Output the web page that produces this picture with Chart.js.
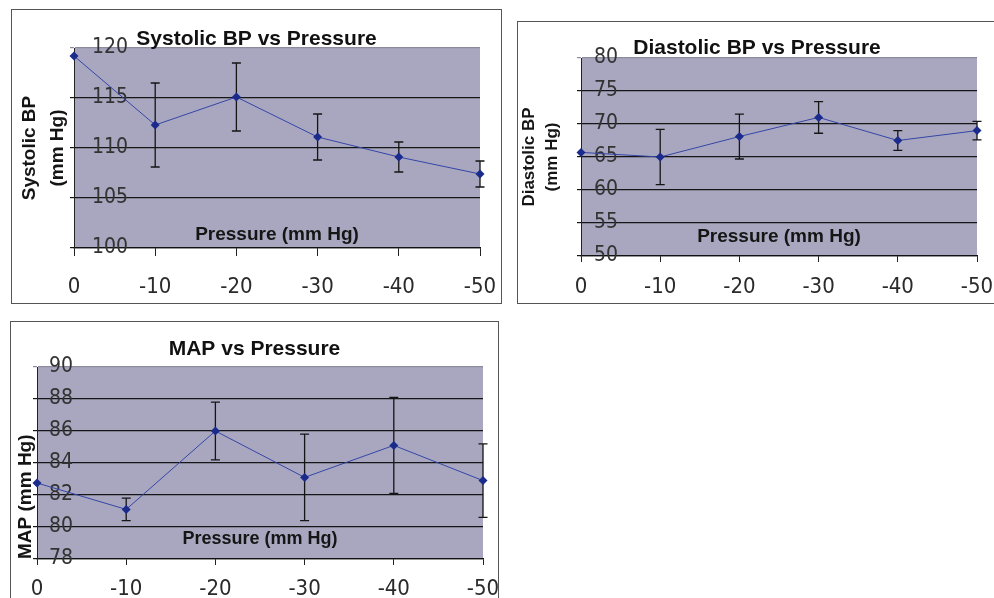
<!DOCTYPE html>
<html>
<head>
<meta charset="utf-8">
<script src="https://cdn.jsdelivr.net/npm/chart.js@4.4.1/dist/chart.umd.min.js"></script>
<style>
    html, body { margin: 0; padding: 0; background: #fff; }
    body { width: 994px; height: 598px; overflow: hidden; position: relative; }
    .box { position: absolute; border: 1px solid #555; box-sizing: border-box; background: #fff; }
    .box canvas { position: absolute; left: 0; top: 0; }
</style>
</head>
<body>
<div class="box" style="left:11px; top:9px; width:491px; height:295px;"><canvas id="systolicChart" width="489" height="293"></canvas></div>
<div class="box" style="left:517px; top:21px; width:480px; height:283px;"><canvas id="diastolicChart" width="478" height="281"></canvas></div>
<div class="box" style="left:10px; top:321px; width:489px; height:300px;"><canvas id="mapChart" width="487" height="298"></canvas></div>
<script>
// Pressure steps (x axis)
const pressureLabels = ['0', '-10', '-20', '-30', '-40', '-50'];

// Systolic BP (mm Hg): mean and error bar half-length
const systolicMean = [119.2, 112.3, 115.1, 111.1, 109.1, 107.4];
const systolicErr = [0, 4.2, 3.4, 2.3, 1.5, 1.3];
const systolicTicks = [100, 105, 110, 115, 120];

// Diastolic BP (mm Hg)
const diastolicMean = [65.7, 65.0, 68.1, 71.0, 67.5, 69.0];
const diastolicErr = [0, 4.2, 3.4, 2.4, 1.5, 1.4];
const diastolicTicks = [50, 55, 60, 65, 70, 75, 80];

// MAP (mm Hg)
const mapMean = [82.75, 81.1, 86.0, 83.1, 85.1, 82.9];
const mapErr = [0, 0.7, 1.8, 2.7, 3.0, 2.3];
const mapTicks = [78, 80, 82, 84, 86, 88, 90];

const TITLE_FONT = "'Liberation Sans', Arial, sans-serif";
const TICK_FONT = "'Liberation Sans Narrow', 'Arial Narrow', 'DejaVu Sans Condensed', sans-serif";

// fill the plot area grey-lavender
const plotBackground = {
    id: 'plotBackground',
    beforeDraw(chart) {
        const a = chart.chartArea;
        const ctx = chart.ctx;
        ctx.save();
        ctx.fillStyle = '#a9a7bf';
        ctx.fillRect(a.left, a.top, a.right - a.left, a.bottom - a.top);
        ctx.restore();
    }
};

// vertical error bars with caps
const errorBars = {
    id: 'errorBars',
    beforeDatasetsDraw(chart) {
        const ctx = chart.ctx;
        const y = chart.scales.y;
        chart.data.datasets.forEach(function (ds, di) {
            const meta = chart.getDatasetMeta(di);
            ds.errors.forEach(function (err, i) {
                if (!err) return;
                const x = meta.data[i].x;
                const top = y.getPixelForValue(ds.data[i] + err);
                const bot = y.getPixelForValue(ds.data[i] - err);
                ctx.save();
                ctx.strokeStyle = '#151515';
                ctx.lineWidth = 1.3;
                ctx.beginPath();
                ctx.moveTo(x, top); ctx.lineTo(x, bot);
                ctx.moveTo(x - 4.5, top); ctx.lineTo(x + 4.5, top);
                ctx.moveTo(x - 4.5, bot); ctx.lineTo(x + 4.5, bot);
                ctx.stroke();
                ctx.restore();
            });
        });
    }
};

function makeChart(id, opt) {
    const yMin = opt.ticks[0];
    const yMax = opt.ticks[opt.ticks.length - 1];
    return new Chart(document.getElementById(id).getContext('2d'), {
        type: 'line',
        data: {
            labels: pressureLabels,
            datasets: [{
                data: opt.mean,
                errors: opt.err,
                borderColor: '#3446a8',
                borderWidth: 1,
                pointStyle: 'rectRot',
                pointRadius: 4.5,
                pointBackgroundColor: '#1b2b8c',
                pointBorderColor: '#1b2b8c',
                pointBorderWidth: 0,
                tension: 0,
                clip: false
            }]
        },
        options: {
            responsive: false,
            animation: false,
            events: [],
            layout: { padding: 0 },
            plugins: {
                legend: { display: false },
                tooltip: { enabled: false },
                title: {
                    display: true,
                    text: opt.title,
                    color: '#111',
                    font: { family: TITLE_FONT, size: 21, weight: 'bold', lineHeight: 1 },
                    padding: opt.titlePad
                }
            },
            scales: {
                x: {
                    type: 'category',
                    offset: false,
                    afterFit(scale) {
                        scale.height = opt.xHeight;
                        scale.paddingLeft = 0;
                        scale.paddingRight = opt.padRight;
                    },
                    grid: { drawOnChartArea: false, tickLength: opt.xTickLen, color: '#222' },
                    border: { color: '#111', width: 1.2 },
                    ticks: {
                        padding: opt.xTickPad,
                        color: '#2a2a2a',
                        maxRotation: 0,
                        font: { family: TICK_FONT, size: 22 }
                    },
                    title: {
                        display: true,
                        text: 'Pressure (mm Hg)',
                        color: '#151515',
                        font: { family: TITLE_FONT, size: opt.xTitleSize, weight: 'bold', lineHeight: 1.2 },
                        padding: { top: 0, bottom: opt.xTitleLift }
                    }
                },
                y: {
                    min: yMin,
                    max: yMax,
                    afterFit(scale) {
                        scale.width = opt.yWidth;
                        scale.paddingTop = 0;
                        scale.paddingBottom = 0;
                    },
                    afterBuildTicks(scale) {
                        scale.ticks = opt.ticks.map(function (v) { return { value: v }; });
                    },
                    grid: {
                        tickLength: 4,
                        lineWidth: 1.2,
                        color: function (c) { return c.tick && c.tick.value === yMax ? '#8c8b9c' : '#161616'; }
                    },
                    border: { color: '#222', width: 1 },
                    ticks: {
                        mirror: true,
                        padding: opt.yTickPad,
                        color: '#333',
                        font: { family: TICK_FONT, size: 21 }
                    },
                    title: {
                        display: true,
                        text: opt.yTitle,
                        align: opt.yTitleAlign,
                        color: '#151515',
                        font: { family: TITLE_FONT, size: opt.yTitleSize, weight: 'bold', lineHeight: opt.yTitleLine },
                        padding: { top: opt.yTitlePad, bottom: 0 }
                    }
                }
            }
        },
        plugins: [plotBackground, errorBars]
    });
}

makeChart('systolicChart', {
    title: 'Systolic BP vs Pressure',
    mean: systolicMean, err: systolicErr, ticks: systolicTicks,
    padRight: 21, titlePad: { top: 19, bottom: -2 },
    yWidth: 62, xHeight: 55,
    xTickLen: 8, xTickPad: 18, xTitleSize: 19, xTitleLift: 57,
    yTickPad: 18, yTitle: ['Systolic BP', '(mm Hg)'], yTitleAlign: 'center',
    yTitleSize: 19, yTitleLine: 1.47, yTitlePad: 4
});

makeChart('diastolicChart', {
    title: 'Diastolic BP vs Pressure',
    mean: diastolicMean, err: diastolicErr, ticks: diastolicTicks,
    padRight: 19, titlePad: { top: 16, bottom: -1 },
    yWidth: 63, xHeight: 47,
    xTickLen: 6, xTickPad: 12, xTitleSize: 19, xTitleLift: 55,
    yTickPad: 13, yTitle: ['Diastolic BP', '(mm Hg)'], yTitleAlign: 'center',
    yTitleSize: 17, yTitleLine: 1.35, yTitlePad: 0
});

makeChart('mapChart', {
    title: 'MAP vs Pressure',
    mean: mapMean, err: mapErr, ticks: mapTicks,
    padRight: 15, titlePad: { top: 17, bottom: 7 },
    yWidth: 26, xHeight: 61,
    xTickLen: 6, xTickPad: 11, xTitleSize: 18, xTitleLift: 70,
    yTickPad: 12, yTitle: 'MAP (mm Hg)', yTitleAlign: 'start',
    yTitleSize: 19, yTitleLine: 1.2, yTitlePad: 3
});
</script>
</body>
</html>
